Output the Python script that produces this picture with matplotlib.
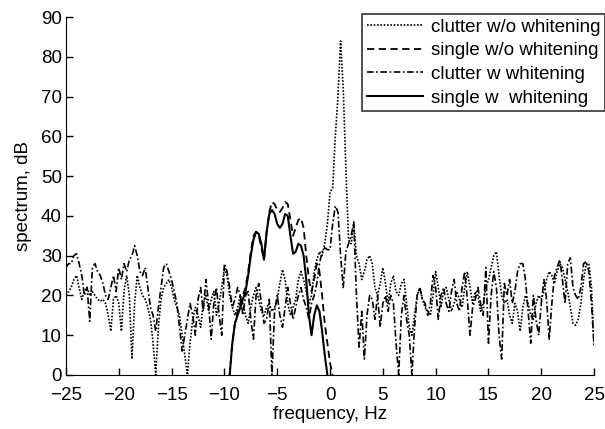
import matplotlib
matplotlib.use("Agg")
import matplotlib.pyplot as plt
import numpy as np

plt.rcParams['font.family'] = ['Liberation Sans', 'DejaVu Sans']

# frequency grid for the clutter spectra (Hz)
freq = np.arange(-25, 25.01, 0.25)

# clutter spectrum without whitening, dB
clutter_wo = [
    20, 21, 22, 24, 25, 22, 19, 21, 22, 20, 21, 20, 19, 18.5, 19, 18, 15, 11, 19, 20,
    18, 11, 21, 25, 20, 4, 18, 25, 22, 20, 19, 17, 14, 8, 0, 12, 19, 22, 23, 24,
    22, 19, 17, 15, 10, 5, 0, 8, 14, 17, 15, 12, 18, 20, 16, 19, 21, 15, 18, 22,
    27, 25, 20, 17, 15, 17, 20, 18, 15, 13, 17, 20, 22, 19, 16, 15, 17, 18, 16, 17,
    19, 23, 26.5, 24, 18, 15, 17, 19, 24, 26, 24, 21, 18, 20, 26, 29, 31, 30, 33, 38,
    46, 47, 60, 70, 84, 72, 52, 34, 33, 38, 30, 28, 24, 26, 29, 30, 28, 22, 20, 23,
    27, 23, 18, 23, 25, 21, 20, 23, 24, 18, 12, 10, 15, 20, 22, 19, 17, 16, 15, 20,
    26, 22, 17, 21, 22, 19, 16, 18, 21, 19, 17, 22, 26, 22, 18, 21, 20, 16, 18, 22,
    24, 27, 30, 31, 25, 20, 18, 19, 15, 13, 18, 16, 11, 17, 20, 18, 15, 14, 18, 20,
    19, 21, 24, 26, 25, 23, 26, 28, 27, 24, 21, 17, 13, 12.5, 14, 18, 24, 28, 28, 22,
    7,
]

# clutter spectrum with whitening, dB
clutter_w = [
    27, 28, 28, 30, 30.5, 28, 25, 20, 22, 13.5, 27, 28, 26, 25, 23, 20, 19, 22, 25, 21,
    27, 24, 28, 26, 29, 30, 32.5, 30, 26, 25, 27, 22, 17, 15, 11, 17, 22, 27, 28, 26,
    24, 21, 18, 12, 6, 10, 14, 18, 15, 10, 19, 22, 16, 24, 18, 9, 18, 22, 15, 10,
    28, 26, 22, 17, 19, 22, 20, 15, 20, 21, 14, 9, 20, 23, 18, 13, 14, 19, 0, 16,
    20, 15, 12, 17, 22, 18, 14, 17, 20, 22, 19, 17, 14, 18, 20, 23, 28, 31, 32, 31.5,
    31.5, 38, 42.5, 41, 30, 22, 31, 33, 35, 38.5, 20, 7, 16, 4, 15, 20, 19, 14, 20, 12,
    18, 20, 16, 20, 18, 8, 0, 15, 20, 14, 10, 0, 12, 20, 22, 19, 18, 15, 18, 25,
    22, 14, 20, 22, 18, 16, 21, 24, 18, 16, 22, 26, 19, 10, 17, 19, 22, 18, 15, 27,
    8, 20, 26, 22, 10, 4, 23, 20, 24, 18, 21, 26, 28, 28, 24, 16, 8, 20, 14, 10,
    18, 24, 19, 9, 18, 25, 27, 29, 24, 18, 28, 29.5, 22, 20, 19, 22, 28, 28.5, 26, 18,
    7,
]

# single target spectra (Hz, dB)
freq_single_wo = np.arange(-9.5, 0.26, 0.25)
single_wo = [
    0, 8, 13, 16, 18, 20, 22, 26, 31, 35, 36, 35, 32, 29, 36, 41, 43.5, 43, 41.5, 41,
    42, 43.5, 43, 39, 35, 37, 39, 39.5, 37, 30, 24, 21, 24, 28, 26, 20, 13, 8, 3, 0,
]
freq_single_w = np.arange(-9.5, -0.24, 0.25)
single_w = [
    0, 8, 13, 15, 17, 19, 21, 25, 30, 34, 36, 35.5, 33, 29, 36, 40.5, 41.5, 40.5, 38, 37,
    38, 40.5, 40, 35, 30.5, 31, 33, 32.5, 30, 24, 15, 10, 15, 17.5, 16, 11, 5, 0,
]

labels = ['clutter w/o whitening', 'single w/o whitening',
          'clutter w whitening', 'single w  whitening']

fig = plt.figure(figsize=(6.05, 4.29), dpi=100)
ax = fig.add_axes([0.109, 0.126, 0.873, 0.834])

ax.plot(freq, clutter_wo, color='black', linestyle=(0, (1, 1)), linewidth=1.2, label=labels[0])
ax.plot(freq_single_wo, single_wo, color='black', linestyle=(0, (4, 2.5)), linewidth=1.3, label=labels[1])
ax.plot(freq, clutter_w, color='black', linestyle=(0, (4, 1.5, 1, 1.5)), linewidth=1.2, label=labels[2])
ax.plot(freq_single_w, single_w, color='black', linestyle='-', linewidth=1.5, label=labels[3])

ax.set_xlim(-25, 25)
ax.set_ylim(0, 90)
ax.set_xticks(np.arange(-25, 26, 5))
ax.set_yticks(np.arange(0, 91, 10))
ax.tick_params(direction='in', labelsize=13.5, length=5, width=1)
ax.tick_params(axis='x', pad=9)
ax.tick_params(axis='y', pad=3)
ax.spines['top'].set_visible(False)
ax.spines['right'].set_visible(False)
ax.set_xlabel('frequency, Hz', fontsize=13.5, labelpad=1)
ax.set_ylabel('spectrum, dB', fontsize=13.5, labelpad=6)

leg = ax.legend(loc='upper right', bbox_to_anchor=(1.0, 0.968), bbox_transform=fig.transFigure,
                fontsize=13.5, frameon=True, fancybox=False, handlelength=3.0,
                borderpad=0.25, labelspacing=0.35, handletextpad=0.4, borderaxespad=0)
leg.get_frame().set_edgecolor('black')
leg.get_frame().set_linewidth(1.2)

fig.savefig('out.png', dpi=100)
